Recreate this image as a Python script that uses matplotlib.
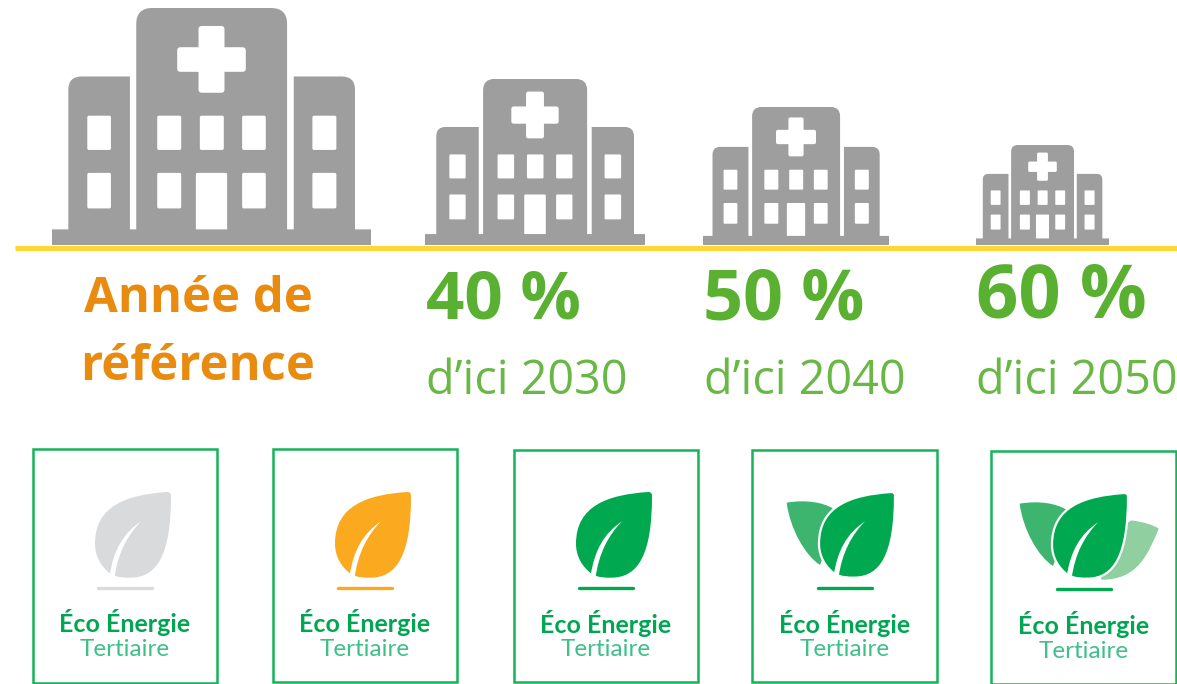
import matplotlib
matplotlib.use('Agg')
import matplotlib.pyplot as plt
from matplotlib.patches import Rectangle, PathPatch
from matplotlib.path import Path

# text and colours
percent_labels = ['40 %', '50 %', '60 %']
year_labels = ['d\u2019ici 2030', 'd\u2019ici 2040', 'd\u2019ici 2050']
reference_lines = ['Ann\u00e9e de', 'r\u00e9f\u00e9rence']
label_bold = '\u00c9co \u00c9nergie'
label_light = 'Tertiaire'
leaf_colors = ['#D9DADC', '#FBA91F', '#00A94F', '#00A94F', '#00A94F']
side_left = [False, False, False, True, True]
side_right = [False, False, False, False, True]

GREY = '#9E9E9E'
GREEN = '#5AB031'
FRAME = '#14B458'

fig = plt.figure(figsize=(11.77, 6.84), dpi=100)
ax = fig.add_axes([0, 0, 1, 1])
ax.set_xlim(0, 1177)
ax.set_ylim(684, 0)
ax.axis('off')

M = Path.MOVETO
L = Path.LINETO
C3 = Path.CURVE4
Q = Path.CURVE3


def hospital(x0, x1, y0, y1):
    # drawn in the 3x zoom units of the biggest building, then scaled
    sx = (x1 - x0) / 958
    sy = (y1 - y0) / 713

    def rounded(u0, u1, v0, v1, r_tl, r_tr, r_br, r_bl, color, z=2):
        pts = [(u0 + r_tl, v0), (u1 - r_tr, v0), (u1, v0), (u1, v0 + r_tr), (u1, v1 - r_br), (u1, v1),
               (u1 - r_br, v1), (u0 + r_bl, v1), (u0, v1), (u0, v1 - r_bl), (u0, v0 + r_tl), (u0, v0),
               (u0 + r_tl, v0)]
        codes = [M, L, Q, Q, L, Q, Q, L, Q, Q, L, Q, Q]
        verts = [(x0 + (p[0] - 36) * sx, y0 + (p[1] - 22) * sy) for p in pts]
        ax.add_patch(PathPatch(Path(verts, codes), fc=color, ec='none', zorder=z))

    rounded(36, 994, 688, 735, 0, 0, 0, 0, GREY)
    rounded(85, 270, 228, 700, 40, 0, 0, 0, GREY)
    rounded(762, 946, 228, 700, 0, 40, 0, 0, GREY)
    rounded(289, 742, 22, 700, 48, 48, 0, 0, GREY)
    # cross
    rounded(476, 554, 76, 277, 10, 10, 10, 10, 'white', 3)
    rounded(412, 618, 140, 214, 10, 10, 10, 10, 'white', 3)
    # windows
    for u0, u1 in [(142, 213), (352, 424), (607, 678), (818, 890)]:
        rounded(u0, u1, 346, 449, 5, 5, 5, 5, 'white', 3)
        rounded(u0, u1, 518, 625, 5, 5, 5, 5, 'white', 3)
    rounded(480, 552, 346, 449, 5, 5, 5, 5, 'white', 3)
    rounded(468, 562, 518, 688, 5, 5, 0, 0, 'white', 3)


def shape(tx, ty, pts, codes, **kw):
    # points are 3x zoom units relative to the leaf tip
    verts = [(tx + p[0] / 3, ty + p[1] / 3) for p in pts]
    ax.add_patch(PathPatch(Path(verts, codes), **kw))


def leaf(tx, ty, cx, color, left, right):
    if left:
        shape(tx, ty, [(-325, 32), (-265, 22), (-215, 32), (-187, 49), (-180, 100), (-225, 219),
                       (-270, 190), (-315, 110), (-325, 32)],
              [M, C3, C3, C3, L, L, C3, C3, C3], fc='#3DB56F', ec='none', zorder=2)
    if right:
        shape(tx, ty, [(10, 82), (50, 88), (75, 95), (92, 107), (62, 180), (30, 262), (-80, 260),
                       (-100, 150), (10, 82)],
              [M, C3, C3, C3, C3, C3, C3, L, L], fc='#8FCFA0', ec='none', zorder=2)
    main = [(-12, 0), (-130, 8), (-228, 40), (-228, 155), (-228, 195), (-208, 225), (-182, 245),
            (-160, 258), (-140, 257), (-122, 257), (-40, 257), (0, 185), (0, 12), (0, 3), (-4, 0), (-12, 0)]
    codes = [M] + [C3] * 15
    shape(tx, ty, main, codes, fc=color, ec='white', lw=1.6 if left else 0, zorder=3)
    # the vein
    vein = [(-184, 250), (-172, 175), (-145, 125), (-90, 88), (-128, 127), (-160, 180), (-170, 262), (-184, 250)]
    shape(tx, ty, vein, [M, C3, C3, C3, C3, C3, C3, L], fc='white', ec='none', zorder=4)
    # line under the leaf, centred on the frame
    ax.plot([cx - 27, cx + 27], [ty + 95.5, ty + 95.5], color=color, lw=2.4,
            solid_capstyle='round', zorder=3)


def badge(x0, x1, y0, y1, tx, ty, color, left, right):
    cx = (x0 + x1) / 2
    ax.add_patch(Rectangle((x0, y0), x1 - x0, y1 - y0, fc='white', ec=FRAME, lw=1.8, zorder=1))
    leaf(tx, ty, cx, color, left, right)
    ax.text(cx, y0 + 173.5, label_bold, ha='center', va='center', fontsize=18, fontweight='bold',
            family='Lato', color='#00A651', zorder=5)
    ax.text(cx, y0 + 200, label_light, ha='center', va='center', fontsize=17.5,
            family='Lato', color='#3FC08A', zorder=5)


# buildings
hospital(52, 371, 8, 245)
hospital(425, 645, 79, 245)
hospital(703, 889, 107, 245)
hospital(976, 1109, 145, 245)

# yellow rule
ax.plot([15, 1177], [248, 248], color='#FFD633', lw=3.6, solid_capstyle='butt', zorder=6)

# texts under the rule
ax.text(198, 300, reference_lines[0], ha='center', va='center', fontsize=35.3, fontweight='bold',
        family='Open Sans', color='#E98B0F')
ax.text(198, 367, reference_lines[1], ha='center', va='center', fontsize=35.3, fontweight='bold',
        family='Open Sans', color='#E98B0F')
for cx, cy, fs, yx, pct, yr in zip([504, 784, 1061], [301, 301, 298], [48.5, 50.5, 53.5],
                                   [527, 805, 1077], percent_labels, year_labels):
    ax.text(cx, cy, pct, ha='center', va='center', fontsize=fs,
            fontweight='bold', family='Open Sans', color=GREEN)
    ax.text(yx, 381, yr, ha='center', va='center', fontsize=33.7, family='Open Sans', color='#69B845')

# badges
boxes = [(33, 217, 449, 683), (273, 457, 449, 682), (514, 698, 450, 682), (752, 937, 450, 682), (991, 1176, 451, 684)]
tips = [(171, 492), (411, 492), (652, 492), (895, 492), (1128, 493)]
for b, t, c, l, r in zip(boxes, tips, leaf_colors, side_left, side_right):
    badge(b[0], b[1], b[2], b[3], t[0], t[1], c, l, r)

fig.savefig('out.png', dpi=100)
